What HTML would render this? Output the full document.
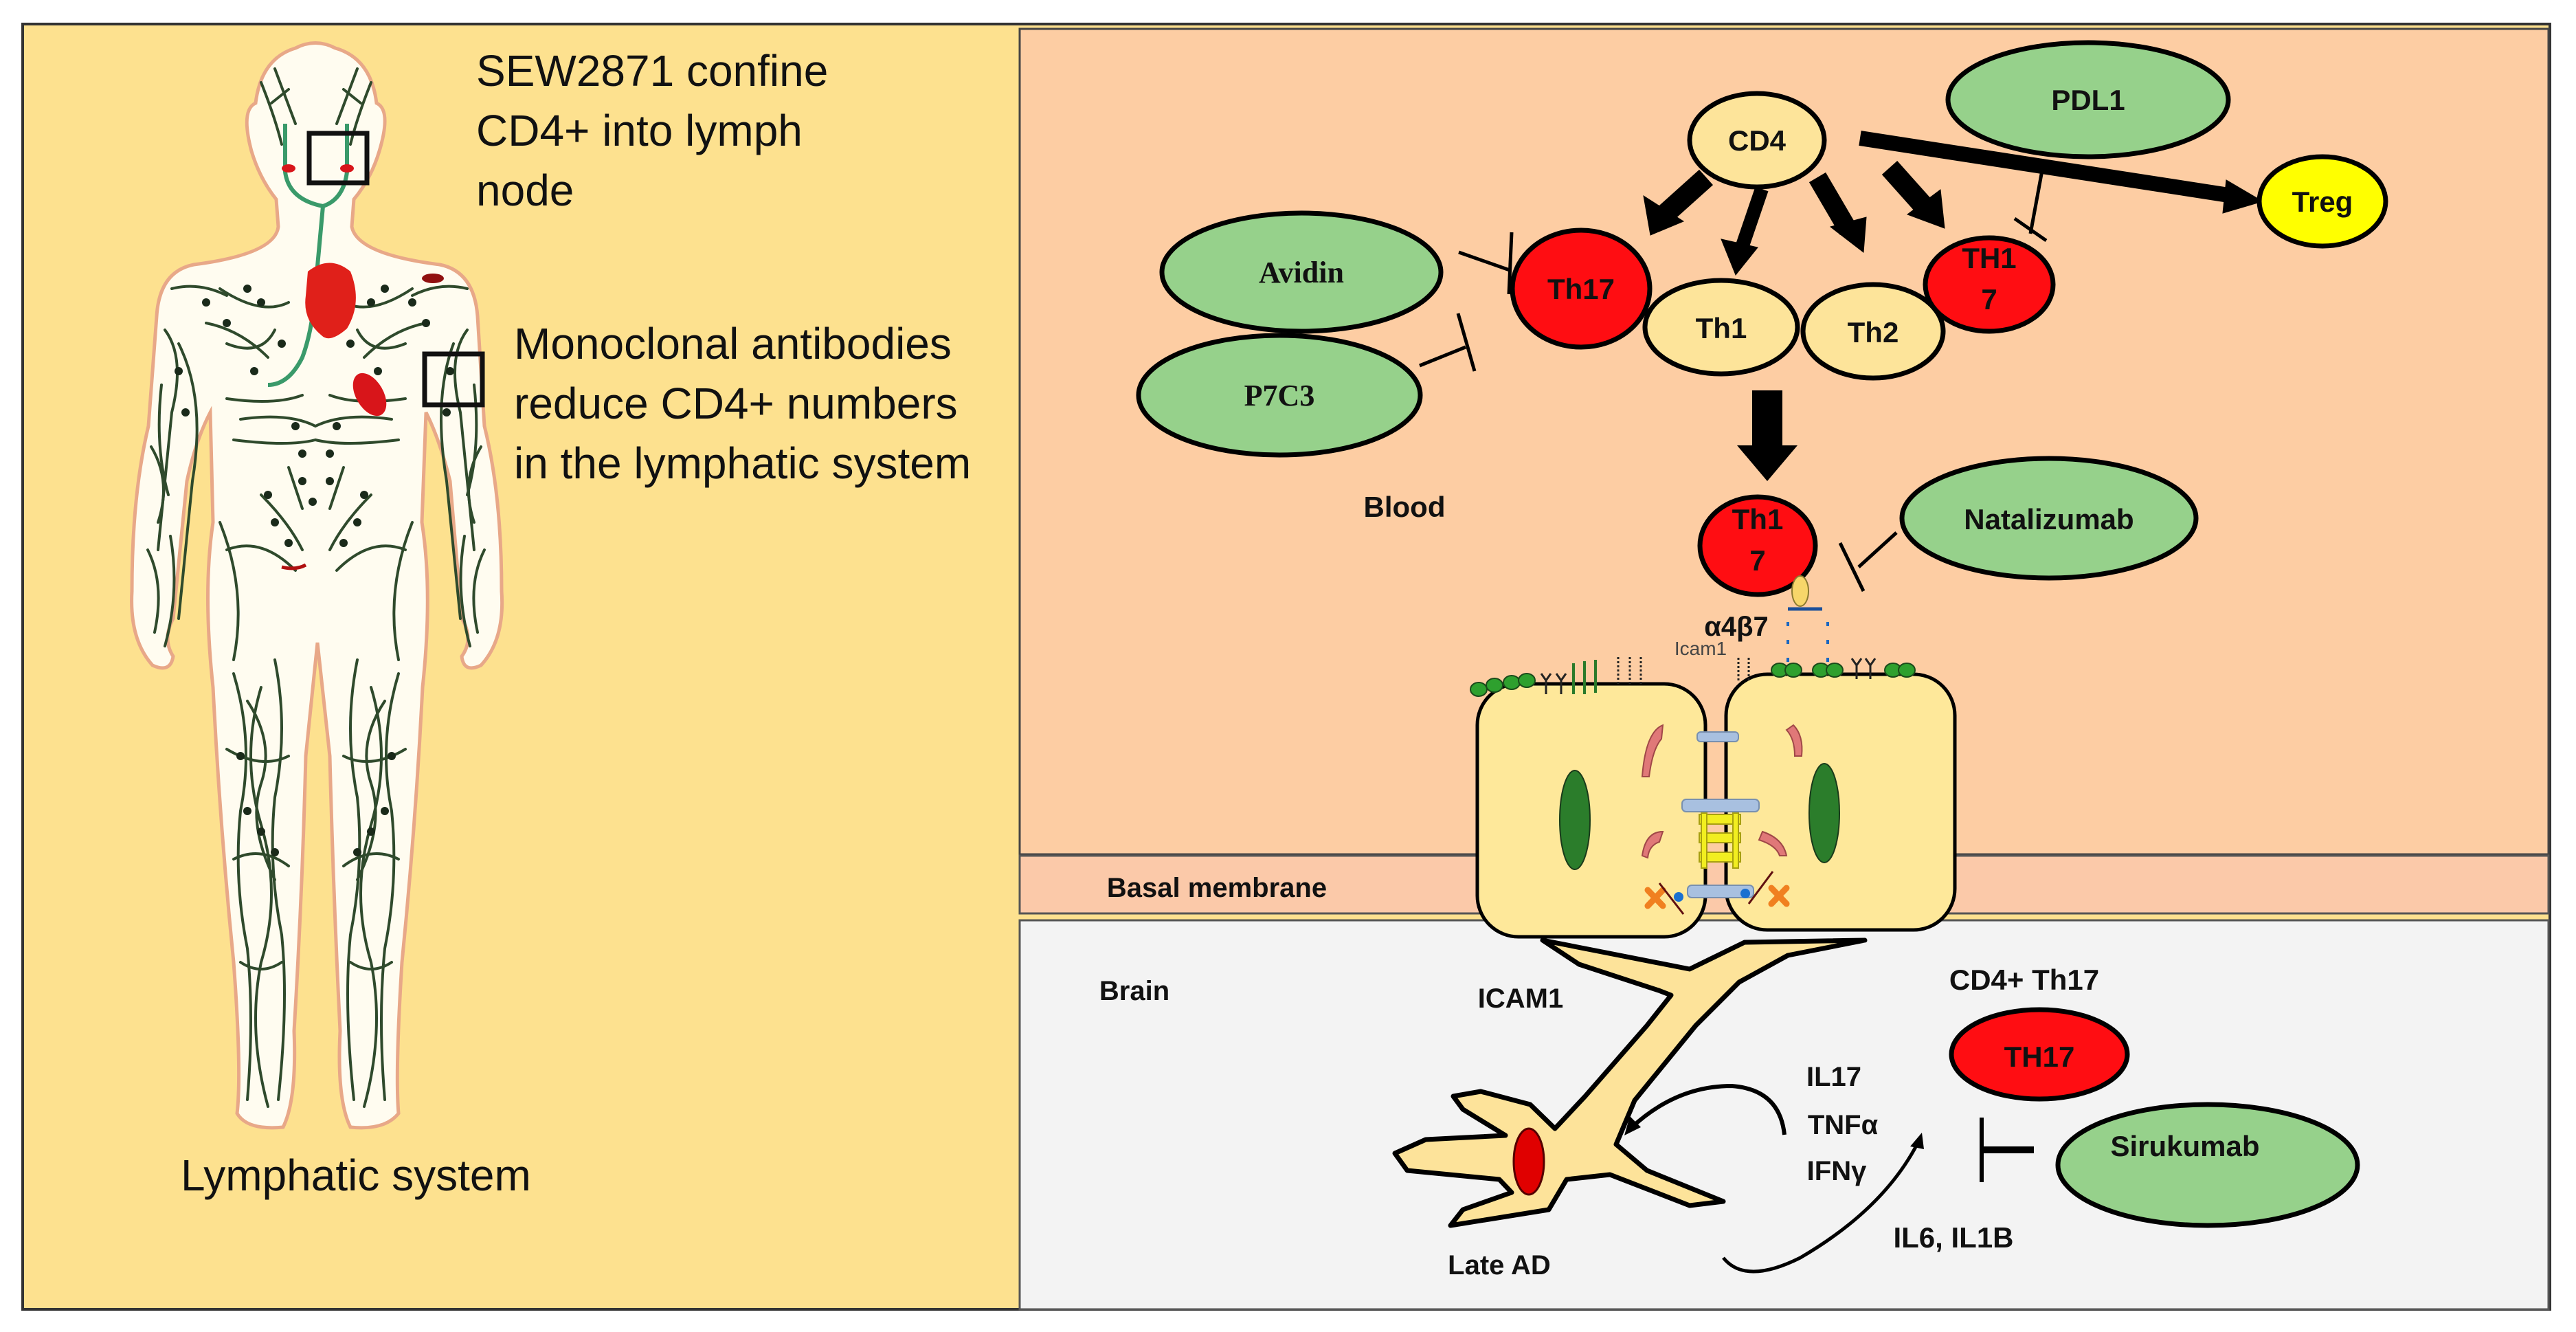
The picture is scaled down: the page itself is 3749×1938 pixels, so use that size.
<!DOCTYPE html>
<html><head><meta charset="utf-8"><style>
html,body{margin:0;padding:0;background:#fff;}
svg{display:block}
text{font-family:"Liberation Sans",sans-serif;}
.b{font-weight:bold;}
</style></head><body>
<svg width="3749" height="1938" viewBox="0 0 3749 1938" xmlns="http://www.w3.org/2000/svg">
<!-- panels -->
<rect x="33" y="35" width="3678" height="1870" fill="#fde18f" stroke="#333" stroke-width="4"/>
<rect x="1484" y="42" width="2225" height="1201" fill="#fdcda3" stroke="#444" stroke-width="3"/>
<rect x="1484" y="1245" width="2225" height="84" fill="#fbc9a9" stroke="#555" stroke-width="3"/>
<rect x="1484" y="1339" width="2225" height="566" fill="#f3f3f3" stroke="#555" stroke-width="3"/>

<!-- body silhouette -->
<path d="M430,70 Q459,55 488,70 Q540,85 548,150 Q570,160 552,220 Q540,260 515,290 L512,330 Q520,370 640,385 Q690,395 695,460 L705,620 Q730,720 730,860 Q735,930 700,968 Q675,980 672,955 Q690,930 672,900 L655,700 Q640,640 620,600 L614,760 Q630,860 615,1000 Q605,1200 585,1400 Q575,1560 580,1620 Q560,1645 510,1640 Q490,1600 495,1500 Q485,1300 480,1100 L462,935 L445,1100 Q440,1300 428,1500 Q432,1600 412,1640 Q360,1645 345,1620 Q352,1560 340,1400 Q320,1200 310,1000 Q295,860 310,760 L306,600 Q285,640 272,700 L252,900 Q236,930 252,955 Q248,980 222,968 Q188,930 192,860 Q192,720 216,620 L228,460 Q232,395 282,385 Q400,370 405,330 L402,290 Q378,260 366,220 Q350,160 372,150 Q380,85 430,70 Z" fill="#fffcf0" stroke="#e8a888" stroke-width="5"/>
<!-- lymph vessels (stylized) -->
<g fill="none" stroke="#2f4a2c" stroke-width="4" stroke-linecap="round">
<path d="M380,120 Q400,170 410,210 M540,120 Q520,170 510,210 M400,100 L430,180 M520,100 L490,180 M395,150 L420,130 M525,150 L500,130"/>
<path d="M250,420 Q290,410 330,430 M600,430 Q640,410 680,420 M240,480 Q270,520 250,600 Q240,700 230,800 M260,500 Q300,580 280,700 Q270,800 260,900 M680,480 Q650,520 670,600 Q680,700 690,800 M660,500 Q630,580 650,700 Q660,800 670,900"/>
<path d="M220,650 Q250,700 230,760 M700,650 Q670,700 690,760 M215,800 Q240,850 225,920 M705,800 Q680,850 695,920 M235,560 Q225,650 245,720 M690,560 Q700,650 680,720 M248,780 Q262,860 240,940 M676,780 Q662,860 684,940"/>
<path d="M320,420 Q380,460 420,440 M600,420 Q540,460 500,440 M330,500 Q380,520 400,480 M590,500 Q540,520 520,480 M300,470 Q350,480 390,520 M620,470 Q570,480 530,520"/>
<path d="M350,610 Q420,600 459,620 Q500,600 570,610 M340,640 Q420,650 459,640 M580,640 Q500,650 459,640 M330,580 Q400,590 440,575 M590,580 Q520,590 480,575"/>
<path d="M380,720 Q420,760 440,800 M540,720 Q500,760 480,800 M330,800 Q380,780 430,830 M590,800 Q540,780 490,830 M320,760 Q360,860 340,960 M600,760 Q560,860 580,960 M420,680 L440,740 M500,680 L480,740"/>
<path d="M340,980 Q370,1080 350,1180 Q340,1280 360,1380 Q370,1480 360,1600 M400,960 Q420,1060 400,1160 Q390,1260 410,1360 Q420,1460 405,1600 M380,1000 Q350,1100 380,1200 Q410,1300 380,1400 Q360,1500 390,1610 M360,1020 Q400,1080 380,1140 Q360,1200 400,1280"/>
<path d="M580,980 Q550,1080 570,1180 Q580,1280 560,1380 Q550,1480 560,1600 M520,960 Q500,1060 520,1160 Q530,1260 510,1360 Q500,1460 515,1600 M540,1000 Q570,1100 540,1200 Q510,1300 540,1400 Q560,1500 530,1610 M560,1020 Q520,1080 540,1140 Q560,1200 520,1280"/>
<path d="M330,1090 Q380,1120 420,1100 M590,1090 Q540,1120 500,1100 M340,1250 Q380,1230 420,1260 M580,1250 Q540,1230 500,1260 M350,1400 Q380,1420 410,1400 M570,1400 Q540,1420 510,1400"/>
</g>
<g fill="none" stroke="#3a9a6a" stroke-width="6">
<path d="M415,180 L415,250 Q420,290 470,300 L459,420 Q455,480 440,520 Q420,560 390,560 M505,180 L505,250 Q500,290 470,300"/>
</g>
<g fill="#1a2a1a">
<circle cx="300" cy="440" r="6"/><circle cx="330" cy="470" r="6"/><circle cx="600" cy="440" r="6"/><circle cx="620" cy="470" r="6"/>
<circle cx="260" cy="540" r="6"/><circle cx="270" cy="600" r="6"/><circle cx="655" cy="540" r="6"/><circle cx="650" cy="600" r="6"/>
<circle cx="430" cy="620" r="6"/><circle cx="490" cy="620" r="6"/><circle cx="440" cy="660" r="6"/><circle cx="480" cy="660" r="6"/>
<circle cx="400" cy="760" r="6"/><circle cx="420" cy="790" r="6"/><circle cx="520" cy="760" r="6"/><circle cx="500" cy="790" r="6"/>
<circle cx="390" cy="720" r="6"/><circle cx="530" cy="720" r="6"/><circle cx="360" cy="1180" r="6"/><circle cx="380" cy="1210" r="6"/>
<circle cx="560" cy="1180" r="6"/><circle cx="540" cy="1210" r="6"/><circle cx="400" cy="1240" r="6"/><circle cx="520" cy="1240" r="6"/>
<circle cx="370" cy="540" r="6"/><circle cx="550" cy="540" r="6"/><circle cx="360" cy="420" r="6"/><circle cx="560" cy="420" r="6"/>
<circle cx="440" cy="700" r="6"/><circle cx="480" cy="700" r="6"/><circle cx="455" cy="730" r="6"/><circle cx="350" cy="1100" r="6"/><circle cx="570" cy="1100" r="6"/>
<circle cx="380" cy="440" r="6"/><circle cx="540" cy="440" r="6"/><circle cx="410" cy="500" r="6"/><circle cx="510" cy="500" r="6"/>
</g>
<!-- organs -->
<path d="M448,395 Q480,370 510,395 Q528,440 505,478 Q480,500 468,488 Q440,465 445,430 Z" fill="#e0201a"/>
<ellipse cx="538" cy="574" rx="20" ry="34" transform="rotate(-30 538 574)" fill="#d8151a"/>
<ellipse cx="420" cy="245" rx="10" ry="6" fill="#d8151a"/><ellipse cx="505" cy="245" rx="10" ry="6" fill="#d8151a"/>
<ellipse cx="630" cy="405" rx="16" ry="7" fill="#901010"/>
<path d="M410,825 Q430,830 445,822" stroke="#b01010" stroke-width="5" fill="none"/>
<!-- boxes -->
<rect x="450" y="194" width="84" height="72" fill="none" stroke="#111" stroke-width="7"/>
<rect x="618" y="515" width="84" height="74" fill="none" stroke="#111" stroke-width="7"/>

<!-- left text -->
<g font-size="64" fill="#111">
<text x="693" y="125">SEW2871 confine</text>
<text x="693" y="212">CD4+ into lymph</text>
<text x="693" y="299">node</text>
<text x="748" y="522">Monoclonal antibodies</text>
<text x="748" y="609">reduce CD4+ numbers</text>
<text x="748" y="696">in the lymphatic system</text>
<text x="263" y="1732">Lymphatic system</text>
</g>

<!-- arrows from CD4 -->
<g fill="#000" stroke="#000">
<line x1="2707" y1="201" x2="3250" y2="285" stroke-width="22"/>
<polygon points="3293,293 3240,262 3235,310"/>
<line x1="2483" y1="258" x2="2425" y2="310" stroke-width="30"/>
<polygon points="2402,342 2392,285 2450,322" />
<line x1="2564" y1="275" x2="2535" y2="360" stroke-width="20"/>
<polygon points="2526,400 2505,348 2558,360"/>
<line x1="2645" y1="258" x2="2690" y2="335" stroke-width="28"/>
<polygon points="2712,367 2664,330 2716,316"/>
<line x1="2750" y1="244" x2="2800" y2="300" stroke-width="30"/>
<polygon points="2830,332 2776,312 2824,276"/>
<rect x="2550" y="568" width="44" height="82" stroke="none"/>
<polygon points="2528,648 2616,648 2572,700" stroke="none"/>
</g>
<!-- inhibitors -->
<g stroke="#000" fill="none" stroke-width="5">
<line x1="2972" y1="248" x2="2955" y2="340"/><line x1="2932" y1="318" x2="2978" y2="350"/>
<line x1="2123" y1="367" x2="2197" y2="393"/><line x1="2200" y1="338" x2="2196" y2="428"/>
<line x1="2066" y1="532" x2="2133" y2="505"/><line x1="2122" y1="456" x2="2146" y2="540"/>
<line x1="2760" y1="775" x2="2705" y2="825"/><line x1="2678" y1="790" x2="2712" y2="860"/>
<line x1="2884" y1="1626" x2="2884" y2="1720" stroke-width="6"/><line x1="2884" y1="1673" x2="2960" y2="1673" stroke-width="10"/>
</g>

<!-- nodes -->
<g stroke="#000" stroke-width="7">
<ellipse cx="3039" cy="145" rx="204" ry="83" fill="#96d18b"/>
<ellipse cx="2557" cy="204" rx="98" ry="68" fill="#fde49a"/>
<ellipse cx="3380" cy="293" rx="92" ry="65" fill="#ffff00"/>
<ellipse cx="1894" cy="396" rx="203" ry="86" fill="#96d18b"/>
<ellipse cx="1862" cy="575" rx="205" ry="87" fill="#96d18b"/>
<ellipse cx="2301" cy="420" rx="100" ry="85" fill="#ff0d12"/>
<ellipse cx="2505" cy="476" rx="111" ry="68" fill="#fde49a"/>
<ellipse cx="2726" cy="482" rx="102" ry="68" fill="#fde49a"/>
<ellipse cx="2895" cy="414" rx="93" ry="68" fill="#ff0d12"/>
<ellipse cx="2558" cy="794" rx="84" ry="71" fill="#ff0d12"/>
<ellipse cx="2982" cy="754" rx="214" ry="87" fill="#96d18b"/>
<ellipse cx="2968" cy="1534" rx="128" ry="65" fill="#ff0d12"/>
<ellipse cx="3213" cy="1695" rx="218" ry="88" fill="#96d18b"/>
</g>
<ellipse cx="2620" cy="860" rx="12" ry="22" fill="#f7d66a" stroke="#8a7a30" stroke-width="2"/>
<g class="b" font-size="42" fill="#111" text-anchor="middle">
<text x="3039" y="160">PDL1</text>
<text x="2557" y="219">CD4</text>
<text x="3380" y="308">Treg</text>
<text x="2301" y="435">Th17</text>
<text x="2505" y="492">Th1</text>
<text x="2726" y="498">Th2</text>
<text x="2895" y="390">TH1</text><text x="2895" y="450">7</text>
<text x="2558" y="770">Th1</text><text x="2558" y="830">7</text>
<text x="2982" y="770">Natalizumab</text>
<text x="2968" y="1552">TH17</text>
<text x="3180" y="1682">Sirukumab</text>
<text x="2044" y="752">Blood</text>
<text x="2946" y="1440">CD4+ Th17</text>
<text x="2843" y="1815">IL6, IL1B</text>
</g>
<g font-size="44" fill="#111" text-anchor="middle" font-weight="bold">
<text x="1894" y="411" style="font-family:'Liberation Serif',serif">Avidin</text>
<text x="1862" y="590" style="font-family:'Liberation Serif',serif">P7C3</text>
</g>
<text x="2527" y="925" class="b" font-size="40" text-anchor="middle" fill="#111">α4β7</text>
<text x="2475" y="953" font-size="28" text-anchor="middle" fill="#444">Icam1</text>
<!-- blue dashed -->
<line x1="2602" y1="886" x2="2652" y2="886" stroke="#1a4f9a" stroke-width="5"/>
<g stroke="#1a66c0" stroke-width="4" stroke-dasharray="6 20"><line x1="2602" y1="905" x2="2602" y2="985"/><line x1="2660" y1="905" x2="2660" y2="985"/></g>

<!-- astrocyte -->
<path d="M2245,1368 L2459,1410 L2539,1371 L2714,1368 L2602,1390 L2531,1429 L2468,1492 L2379,1601 L2352,1665 L2397,1703 L2508,1748 L2459,1754 L2343,1709 L2280,1716 L2254,1760 L2111,1783 L2129,1760 L2200,1735 L2182,1716 L2048,1703 L2030,1678 L2075,1658 L2191,1652 L2129,1614 L2115,1595 L2155,1588 L2227,1607 L2263,1642 L2307,1595 L2397,1492 L2432,1448 L2414,1441 L2298,1403 Z" fill="#fde39a" stroke="#000" stroke-width="7" stroke-linejoin="round"/>
<ellipse cx="2225" cy="1690" rx="22" ry="48" fill="#e00000" stroke="#500" stroke-width="3"/>

<!-- cells -->
<rect x="2150" y="995" width="332" height="368" rx="60" fill="#fee89a" stroke="#000" stroke-width="5"/>
<rect x="2512" y="981" width="333" height="372" rx="60" fill="#fee89a" stroke="#000" stroke-width="5"/>
<ellipse cx="2292" cy="1193" rx="22" ry="72" fill="#2b7d2b" stroke="#1a3a1a" stroke-width="2"/>
<ellipse cx="2655" cy="1183" rx="22" ry="72" fill="#2b7d2b" stroke="#1a3a1a" stroke-width="2"/>
<g fill="#e07878" stroke="#a04848" stroke-width="2">
<path d="M2390,1130 Q2395,1065 2420,1055 L2418,1075 Q2405,1090 2400,1130 Z"/>
<path d="M2390,1245 Q2395,1210 2420,1210 L2415,1225 Q2400,1230 2398,1248 Z"/>
<path d="M2610,1055 Q2625,1070 2622,1100 L2612,1100 Q2612,1075 2600,1062 Z"/>
<path d="M2565,1210 Q2595,1220 2600,1245 L2590,1245 Q2585,1230 2560,1222 Z"/>
</g>
<g fill="#a8c0e0" stroke="#7890b0" stroke-width="2">
<rect x="2470" y="1065" width="60" height="14" rx="5"/>
<rect x="2448" y="1163" width="112" height="18" rx="6"/>
<rect x="2456" y="1288" width="96" height="18" rx="6"/>
</g>
<g fill="#f2ee20" stroke="#a8a010" stroke-width="2">
<rect x="2473" y="1185" width="60" height="14"/><rect x="2473" y="1212" width="60" height="14"/><rect x="2473" y="1240" width="60" height="14"/>
<rect x="2476" y="1183" width="8" height="80"/><rect x="2522" y="1183" width="8" height="80"/>
</g>
<g stroke="#f08020" stroke-width="9" stroke-linecap="round"><path d="M2398,1295 L2420,1318 M2420,1295 L2398,1318 M2578,1292 L2600,1315 M2600,1292 L2578,1315"/></g>
<g stroke="#601010" stroke-width="3" fill="none"><path d="M2415,1285 L2450,1330 M2580,1268 L2545,1315"/></g>
<circle cx="2443" cy="1305" r="7" fill="#1a70d0"/><circle cx="2540" cy="1300" r="7" fill="#1a70d0"/>
<!-- surface receptors -->
<g fill="#2ea02e" stroke="#1a4a1a" stroke-width="2">
<ellipse cx="2152" cy="1003" rx="12" ry="10"/><ellipse cx="2175" cy="997" rx="12" ry="10"/><ellipse cx="2200" cy="993" rx="12" ry="10"/><ellipse cx="2222" cy="990" rx="12" ry="10"/>
<ellipse cx="2590" cy="975" rx="12" ry="10"/><ellipse cx="2610" cy="975" rx="12" ry="10"/><ellipse cx="2650" cy="975" rx="12" ry="10"/><ellipse cx="2670" cy="975" rx="12" ry="10"/><ellipse cx="2755" cy="975" rx="12" ry="10"/><ellipse cx="2775" cy="975" rx="12" ry="10"/>
</g>
<g stroke="#222" stroke-width="3" fill="none">
<path d="M2250,1010 L2250,990 M2243,980 L2250,990 L2257,980 M2272,1010 L2272,990 M2265,980 L2272,990 L2279,980"/>
<path d="M2702,988 L2702,968 M2695,958 L2702,968 L2709,958 M2722,988 L2722,968 M2715,958 L2722,968 L2729,958"/>
<path d="M2355,995 L2355,955 M2372,995 L2372,955 M2388,995 L2388,955 M2530,990 L2530,955 M2545,990 L2545,955" stroke-dasharray="3 3"/>
</g>
<g stroke="#2a7a2a" stroke-width="4" fill="none"><path d="M2290,1010 L2290,965 M2306,1010 L2306,962 M2322,1008 L2322,960"/></g>

<!-- brain labels -->
<g class="b" font-size="40" fill="#111" text-anchor="middle">
<text x="1771" y="1305">Basal membrane</text>
<text x="1651" y="1455">Brain</text>
<text x="2213" y="1466">ICAM1</text>
<text x="2182" y="1854">Late AD</text>
<text x="2669" y="1580">IL17</text>
<text x="2682" y="1650">TNFα</text>
<text x="2673" y="1717">IFNγ</text>
</g>
<!-- curved arrows -->
<path d="M2597,1651 Q2590,1585 2520,1580 Q2440,1580 2375,1640" fill="none" stroke="#000" stroke-width="6"/>
<polygon points="2364,1652 2372,1624 2388,1640" fill="#000"/>
<path d="M2508,1830 Q2540,1870 2620,1830 Q2740,1760 2790,1665" fill="none" stroke="#000" stroke-width="5"/>
<polygon points="2797,1648 2780,1668 2800,1672" fill="#000"/>
</svg>
</body></html>
